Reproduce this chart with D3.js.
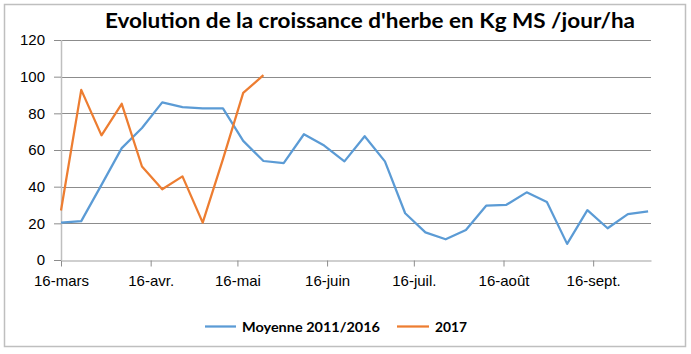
<!DOCTYPE html>
<html>
<head>
<meta charset="utf-8">
<script src="https://cdn.jsdelivr.net/npm/d3@7"></script>
<style>
  body { margin: 0; background: #fff; }
  svg { display: block; font-family: Lato, "Liberation Sans", sans-serif; }
</style>
</head>
<body>
<svg width="691" height="354"></svg>
<script>
// semaines de mesure (jeudi)
const weeks = ["2017-03-16", "2017-03-23", "2017-03-30", "2017-04-06", "2017-04-13", "2017-04-20",
    "2017-04-27", "2017-05-04", "2017-05-11", "2017-05-18", "2017-05-25", "2017-06-01",
    "2017-06-08", "2017-06-15", "2017-06-22", "2017-06-29", "2017-07-06", "2017-07-13",
    "2017-07-20", "2017-07-27", "2017-08-03", "2017-08-10", "2017-08-17", "2017-08-24",
    "2017-08-31", "2017-09-07", "2017-09-14", "2017-09-21", "2017-09-28", "2017-10-05"];

const moyenne = [20.4, 21.2, 41, 61, 72, 86, 83.4, 82.7, 82.7, 65, 54, 52.8, 68.6, 62.4, 53.8,
    67.5, 53.8, 25.5, 15.1, 11.3, 16.4, 29.6, 30.1, 36.9, 31.6, 8.8, 27.2, 17.3, 25, 26.5];
const annee2017 = [27, 92.8, 68, 85.2, 51, 38.6, 45.6, 20.4, 55, 91.2, 100.8];

const tickDates = ["2017-03-16", "2017-04-16", "2017-05-16", "2017-06-16", "2017-07-16", "2017-08-16", "2017-09-16"];
const tickLabels = ["16-mars", "16-avr.", "16-mai", "16-juin", "16-juil.", "16-août", "16-sept."];
const yTicks = [0, 20, 40, 60, 80, 100, 120];

const series = [
    { name: "Moyenne 2011/2016", values: moyenne, color: "#5B9BD5" },
    { name: "2017", values: annee2017, color: "#ED7D31" }
];

const parse = d3.timeParse("%Y-%m-%d");
const svg = d3.select("svg");

const area = { left: 61, right: 651, top: 40, bottom: 260 };

// cadre du graphique
svg.append("rect")
    .attr("x", 4.5).attr("y", 4.5)
    .attr("width", 681).attr("height", 342)
    .attr("fill", "#fff")
    .attr("stroke", "#bfbfbf")
    .attr("stroke-width", 1.5);

const scX = d3.scaleTime()
    .domain([parse("2017-03-16"), parse("2017-10-06")])
    .range([area.left, area.right]);

const scY = d3.scaleLinear()
    .domain([0, 120])
    .range([area.bottom, area.top]);

// grille horizontale
svg.append("g")
    .selectAll("line")
    .data(yTicks.filter(d => d > 0))
    .enter()
    .append("line")
    .attr("x1", area.left)
    .attr("x2", area.right)
    .attr("y1", d => Math.round(scY(d)) + 0.5)
    .attr("y2", d => Math.round(scY(d)) + 0.5)
    .style("stroke", "#8c8c8c")
    .style("stroke-width", 1);

// axe Y
const axisY = d3.axisLeft(scY).tickValues(yTicks).tickSize(7).tickPadding(9);
const gY = svg.append("g")
    .attr("transform", `translate(${area.left}, 0)`)
    .call(axisY);
gY.select(".domain").style("stroke", "#bfbfbf").style("stroke-width", 1.5).attr("d", `M0.5,${area.top}V${area.bottom}`);
gY.selectAll(".tick line").style("stroke", "#8c8c8c");
gY.selectAll(".tick text")
    .style("font-size", "15px")
    .style("fill", "#000");

// axe X
const axisX = d3.axisBottom(scX)
    .tickValues(tickDates.map(parse))
    .tickFormat((d, i) => tickLabels[i])
    .tickSize(6)
    .tickSizeOuter(0)
    .tickPadding(9);
const gX = svg.append("g")
    .attr("transform", `translate(0, ${Math.round(area.bottom) + 0.5})`)
    .call(axisX);
gX.select(".domain").style("stroke", "#bfbfbf").style("stroke-width", 1.5);
gX.selectAll(".tick line").style("stroke", "#8c8c8c");
gX.selectAll(".tick text")
    .style("font-size", "15px")
    .style("fill", "#000");

// courbes
const line = d3.line()
    .x((d, i) => scX(parse(weeks[i])))
    .y(d => scY(d));

svg.selectAll(".serie")
    .data(series)
    .enter()
    .append("path")
    .attr("class", "serie")
    .attr("d", d => line(d.values))
    .style("fill", "none")
    .style("stroke", d => d.color)
    .style("stroke-width", 2.25)
    .style("stroke-linejoin", "round");

// titre
svg.append("text")
    .attr("x", 105)
    .attr("y", 28)
    .attr("textLength", 530)
    .attr("lengthAdjust", "spacingAndGlyphs")
    .style("font-size", "20px")
    .style("font-weight", "bold")
    .text("Evolution de la croissance d'herbe en Kg MS /jour/ha");

// légende
const legend = [
    { x1: 205, x2: 236, tx: 242, tw: 138 },
    { x1: 397, x2: 429, tx: 435, tw: 32 }
];
const gL = svg.append("g");
series.forEach((s, i) => {
    const l = legend[i];
    gL.append("line")
        .attr("x1", l.x1).attr("x2", l.x2)
        .attr("y1", 326.5).attr("y2", 326.5)
        .style("stroke", s.color)
        .style("stroke-width", 2.25);
    gL.append("text")
        .attr("x", l.tx)
        .attr("y", 331.5)
        .attr("textLength", l.tw)
        .attr("lengthAdjust", "spacingAndGlyphs")
        .style("font-size", "14px")
        .style("font-weight", "bold")
        .text(s.name);
});
</script>
</body>
</html>
